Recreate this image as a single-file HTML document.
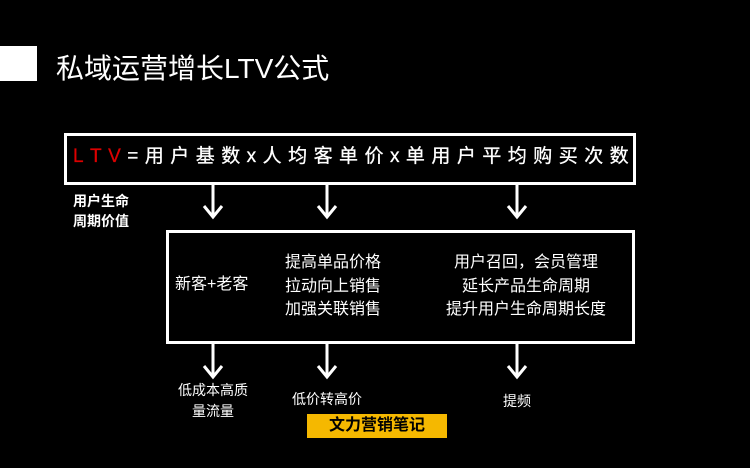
<!DOCTYPE html>
<html><head><meta charset="utf-8"><style>
body{margin:0;width:750px;height:468px;background:#000;overflow:hidden;position:relative;font-family:"Liberation Sans","Noto Sans CJK SC",sans-serif;color:#fff}
.a{position:absolute}
.c{position:absolute;transform:translateX(-50%);white-space:nowrap;text-align:center}
</style></head><body>
<div class="a" style="left:0;top:46px;width:37px;height:35px;background:#fff"></div>
<div class="a" style="left:56px;top:52px;font-size:28px;line-height:34px;white-space:nowrap">私域运营增长LTV公式</div>
<div class="a" style="left:64px;top:133px;width:566px;height:46px;border:3px solid #fff"></div>
<div class="a" style="left:73px;top:144px;width:556px;display:flex;justify-content:space-between;font-size:19px;line-height:26px;-webkit-text-stroke:0.3px #fff">
<span style="color:#d00;-webkit-text-stroke:0.3px #d00">L</span><span style="color:#d00;-webkit-text-stroke:0.3px #d00">T</span><span style="color:#d00;-webkit-text-stroke:0.3px #d00">V</span><span>=</span><span>用</span><span>户</span><span>基</span><span>数</span><span>x</span><span>人</span><span>均</span><span>客</span><span>单</span><span>价</span><span>x</span><span>单</span><span>用</span><span>户</span><span>平</span><span>均</span><span>购</span><span>买</span><span>次</span><span>数</span></div>
<div class="a" style="left:73px;top:191px;font-size:14px;line-height:20px;font-weight:bold">用户生命<br>周期价值</div>
<div class="a" style="left:166px;top:230px;width:463px;height:108px;border:3px solid #fff"></div>
<div class="a" style="left:175px;top:275px;font-size:16px;line-height:20px;white-space:nowrap">新客+老客</div>
<div class="c" style="left:333px;top:251px;font-size:16px;line-height:23.5px">提高单品价格<br>拉动向上销售<br>加强关联销售</div>
<div class="c" style="left:526px;top:251px;font-size:16px;line-height:23.5px">用户召回，会员管理<br>延长产品生命周期<br>提升用户生命周期长度</div>
<svg class="a" style="left:0;top:0" width="750" height="468">
<g stroke="#fff" stroke-width="3" fill="none">
<path d="M213 182V216M204 206L213 217L222 206"/>
<path d="M327 182V216M318 206L327 217L336 206"/>
<path d="M517 182V216M508 206L517 217L526 206"/>
<path d="M213 341V376M204 366L213 377L222 366"/>
<path d="M327 341V376M318 366L327 377L336 366"/>
<path d="M517 341V376M508 366L517 377L526 366"/>
</g></svg>
<div class="c" style="left:213px;top:380px;font-size:14px;line-height:21px">低成本高质<br>量流量</div>
<div class="c" style="left:327px;top:389px;font-size:14px;line-height:20px">低价转高价</div>
<div class="c" style="left:517px;top:391px;font-size:14px;line-height:20px">提频</div>
<div class="a" style="left:307px;top:414px;width:140px;height:24px;background:#f5b800;color:#000;font-weight:bold;font-size:16px;line-height:24px;text-align:center">文力营销笔记</div>
</body></html>
